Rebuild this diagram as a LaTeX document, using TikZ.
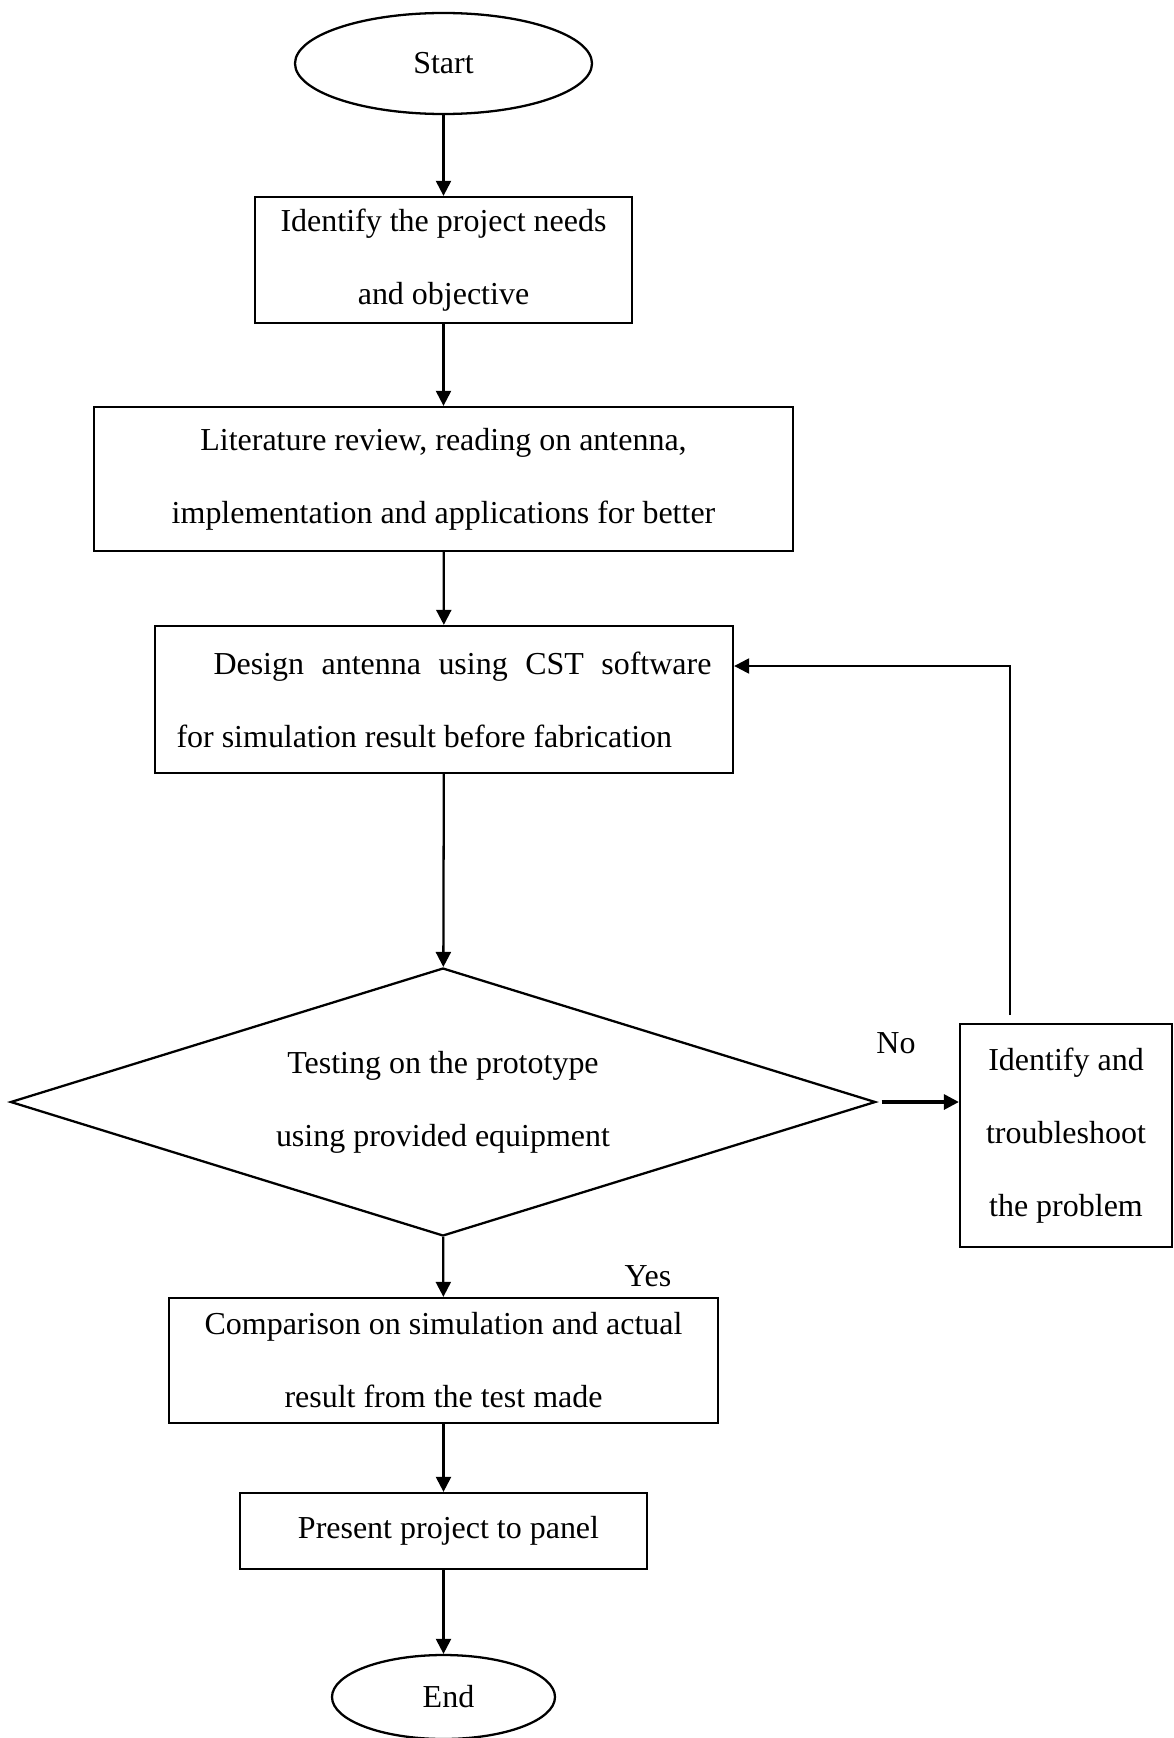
\documentclass[tikz,border=0pt]{standalone}
\usepackage{fontspec}
\setmainfont{Liberation Serif}
\usetikzlibrary{arrows.meta, shapes.geometric}

\begin{document}
\begin{tikzpicture}[>={Triangle[length=3mm, width=3mm]}, line width=1.3pt,
  font=\fontsize{18.2}{41.5}\selectfont,
  proc/.style={draw, rectangle, inner sep=0pt, align=center},
  term/.style={draw, ellipse, inner sep=0pt},
  cond/.style={draw, diamond, aspect=3.2, inner sep=0pt, align=center}]
  \useasboundingbox (0,0) rectangle (23.48,-34.76);
  % inicio y pasos en la columna central
  \node[term, minimum width=5.94cm, minimum height=2.02cm] (start) at (8.87,-1.27) {Start};
  \node[proc, minimum width=7.54cm, minimum height=2.52cm] (needs) at (8.87,-5.2)
    {Identify the project needs\\and objective};
  \node[proc, minimum width=13.98cm, minimum height=2.88cm] (review) at (8.87,-9.58)
    {Literature review, reading on antenna,\\implementation and applications for better};
  \node[proc, minimum width=11.56cm, minimum height=2.94cm, text width=10.7cm, align=justify] (design) at (8.88,-13.99)
    {\hspace*{0.74cm}Design antenna using CST software\linebreak for simulation result before fabrication};
  % decision y rama de correccion
  \node[cond, minimum width=17.3cm, minimum height=5.36cm] (test) at (8.86,-22.04)
    {Testing on the prototype\\using provided equipment};
  \node[proc, minimum width=4.24cm, minimum height=4.46cm] (fix) at (21.32,-22.71)
    {Identify and\\troubleshoot\\the problem};
  \node (no) at (17.92,-20.86) {No};
  \node (yes) at (12.96,-25.52) {Yes};
  \coordinate (back) at (20.2,-20.3);
  % final
  \node[proc, minimum width=10.98cm, minimum height=2.5cm] (compare) at (8.87,-27.21)
    {Comparison on simulation and actual\\result from the test made};
  \node[proc, minimum width=8.14cm, minimum height=1.52cm] (present) at (8.87,-30.62)
    {\hspace*{0.2cm}Present project to panel};
  \node[term, minimum width=4.46cm, minimum height=1.68cm] (end) at (8.87,-33.94) {\hspace*{0.2cm}End};
  % flechas
  \draw[->] (start) -- (needs);
  \draw[->] (needs) -- (review);
  \draw[->] (review) -- (design);
  \draw[->] (design) -- (test);
  \draw[->] (test) -- (compare);
  \draw[->] (compare) -- (present);
  \draw[->] (present) -- (end);
  \draw[->, line width=1.8pt, shorten <=1mm] (test.east) -- (test.east -| fix.west);
  \draw[->] (back) |- ([yshift=6.7mm]design.east);
\end{tikzpicture}
\end{document}
